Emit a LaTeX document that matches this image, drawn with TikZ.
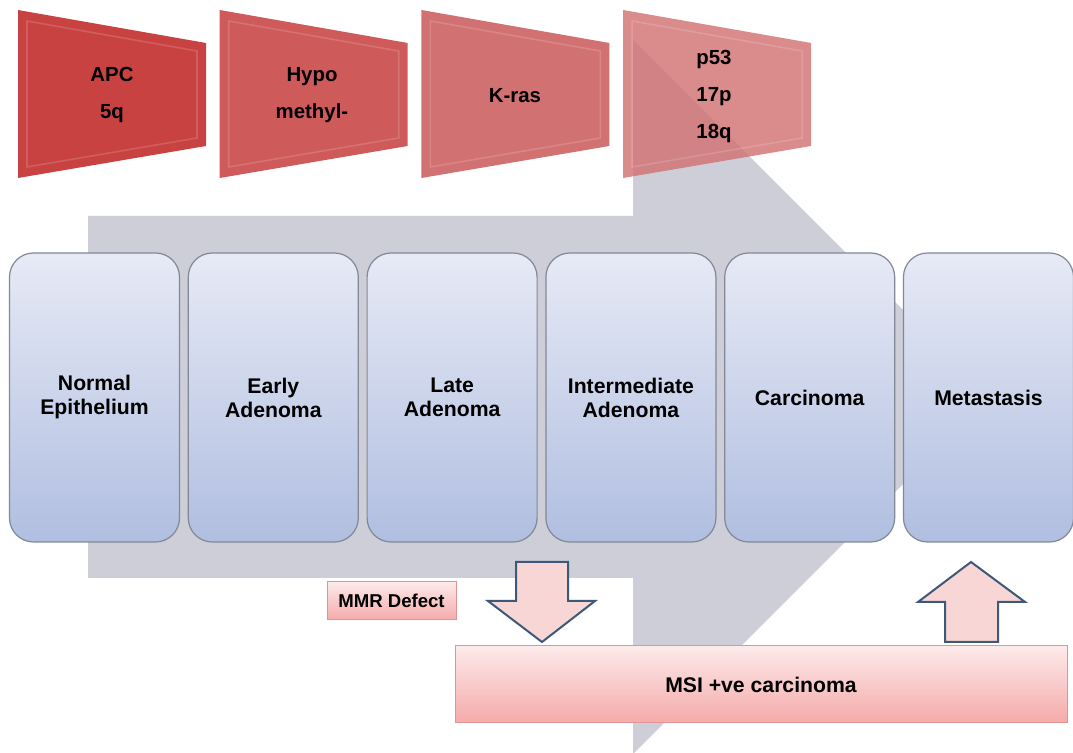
\documentclass[tikz,border=0pt]{standalone}
\usepackage{fontspec}
\setmainfont{Liberation Sans}
\usetikzlibrary{positioning}

\definecolor{flowgrey}{RGB}{205,206,215}
\definecolor{stagetop}{RGB}{231,234,246}
\definecolor{stagebot}{RGB}{176,190,224}
\definecolor{stageedge}{RGB}{130,136,150}
\definecolor{geneA}{RGB}{201,66,66}
\definecolor{geneB}{RGB}{206,90,90}
\definecolor{geneC}{RGB}{210,113,113}
\definecolor{geneD}{RGB}{209,112,112}
\definecolor{pinktop}{RGB}{253,234,234}
\definecolor{pinkbot}{RGB}{245,170,170}
\definecolor{pinkedge}{RGB}{226,148,148}
\definecolor{pinkfill}{RGB}{249,214,214}
\definecolor{arrowedge}{RGB}{62,88,122}

\begin{document}
\begin{tikzpicture}[x=0.5pt, y=-0.5pt,
    stage/.style={draw=stageedge, line width=0.6pt, rounded corners=12pt,
        top color=stagetop, bottom color=stagebot,
        minimum width=85pt, minimum height=144.5pt, align=center,
        font=\fontsize{10.6}{12}\selectfont\bfseries},
    gene/.style={align=center, font=\fontsize{10.2}{18.5}\selectfont\bfseries},
    pinkbox/.style={draw=pinkedge, line width=0.5pt,
        top color=pinktop, bottom color=pinkbot},
    blockarrow/.style={draw=arrowedge, line width=1pt, fill=pinkfill, line join=miter}]
    \useasboundingbox (0,0) rectangle (1073,753);
    \fill[white] (0,0) rectangle (1073,753);

    % big progression arrow behind everything
    \fill[flowgrey] (88,216) -- (633,216) -- (633,40) -- (990,397)
        -- (633,754) -- (633,578) -- (88,578) -- cycle;

    % genetic events
    \foreach \i/\col/\op in {0/geneA/1, 1/geneB/1, 2/geneC/1, 3/geneD/0.8} {
        \fill[\col, opacity=\op] ({18+201.7*\i},10) -- ++(188,33) -- ++(0,103) -- ++(-188,32) -- cycle;
        \draw[white, opacity=0.15, line width=0.8pt]
            ({27+201.7*\i},21) -- ++(170,30) -- ++(0,87) -- ++(-170,29) -- cycle;
    }
    \node[gene] (apc) at (112,95) {APC\\5q};
    \node[gene] (hypo) at (312,95) {Hypo\\methyl-};
    \node[gene] (kras) at (515,96) {K-ras};
    \node[gene] (p53) at (714,96) {p53\\17p\\18q};

    % stages
    \foreach \i/\txt in {1/{Normal\\Epithelium}, 2/{Early\\Adenoma}, 3/{Late\\Adenoma},
        4/{Intermediate\\Adenoma}, 5/Carcinoma, 6/Metastasis}
        \node[stage] (s\i) at ({94.5+178.8*(\i-1)},397.5) {\txt};

    % MSI pathway
    \draw[blockarrow] (516,562) -- (568,562) -- (568,601) -- (595,601)
        -- (542,642) -- (488,601) -- (516,601) -- cycle;
    \draw[blockarrow] (971,562) -- (1025,602) -- (998,602) -- (998,642)
        -- (945,642) -- (945,602) -- (918,602) -- cycle;
    \node[pinkbox, minimum width=306pt, minimum height=38.5pt,
        font=\fontsize{10.6}{12}\selectfont\bfseries] (msi) at (761,684.5) {MSI +ve carcinoma};
    \node[pinkbox, minimum width=64.5pt, minimum height=19pt,
        font=\fontsize{9.3}{11}\selectfont\bfseries] (mmr) at (391.5,601) {MMR Defect};
\end{tikzpicture}
\end{document}
